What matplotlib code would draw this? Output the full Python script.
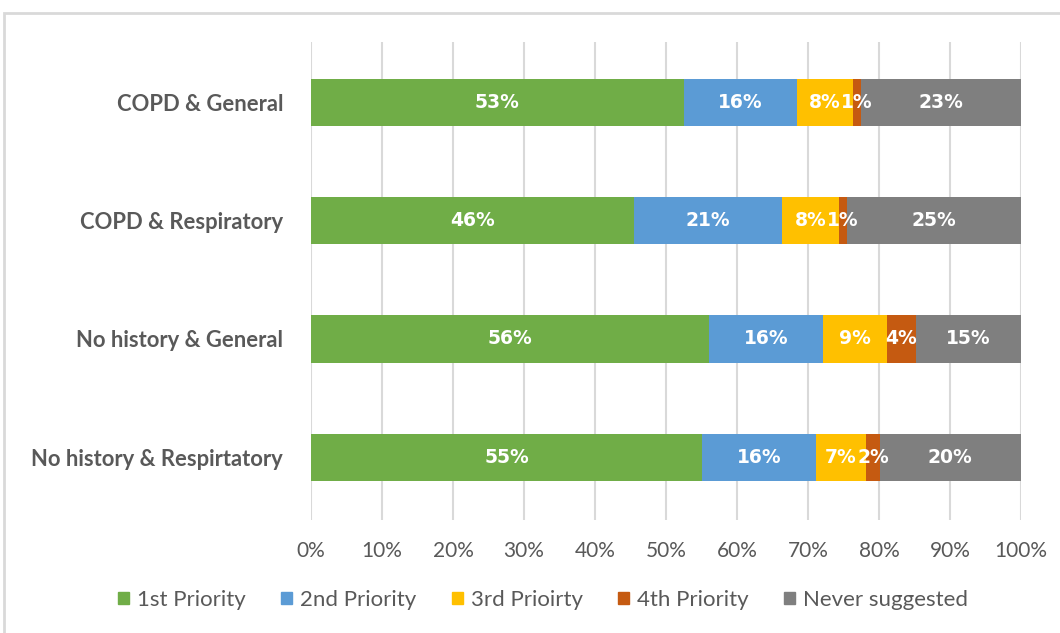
import matplotlib
matplotlib.use("Agg")
import matplotlib.pyplot as plt
from matplotlib.patches import Rectangle, Patch

categories = ["COPD & General", "COPD & Respiratory", "No history & General", "No history & Respirtatory"]
series = ["1st Priority", "2nd Priority", "3rd Prioirty", "4th Priority", "Never suggested"]
values = {
    "1st Priority":    [52.5, 45.5, 56.1, 55.1],
    "2nd Priority":    [16.0, 20.8, 16.0, 16.0],
    "3rd Prioirty":    [7.8, 8.1, 9.0, 7.1],
    "4th Priority":    [1.2, 1.1, 4.1, 1.9],
    "Never suggested": [22.5, 24.5, 14.8, 19.9],
}
labels = {
    "1st Priority":    ["53%", "46%", "56%", "55%"],
    "2nd Priority":    ["16%", "21%", "16%", "16%"],
    "3rd Prioirty":    ["8%", "8%", "9%", "7%"],
    "4th Priority":    ["1%", "1%", "4%", "2%"],
    "Never suggested": ["23%", "25%", "15%", "20%"],
}
colors = ["#70AD47", "#5B9BD5", "#FFC000", "#C55A11", "#7F7F7F"]
xticks = [0, 10, 20, 30, 40, 50, 60, 70, 80, 90, 100]

plt.rcParams['font.family'] = ['Lato', 'DejaVu Sans']
fig = plt.figure(figsize=(10.6, 6.33), dpi=100)
ax = fig.add_axes([311/1060, 1-520/633, 710/1060, 478/633])

ypos = list(range(len(categories)))
left = [0.0]*len(categories)
for s, c in zip(series, colors):
    v = values[s]
    ax.barh(ypos, v, left=left, height=0.40, color=c, label=s, zorder=3)
    for i, lab in enumerate(labels[s]):
        cx = left[i] + v[i]/2
        ax.text(cx, ypos[i], lab, ha='center', va='center', color='white',
                fontsize=13.5, fontweight='bold', family='DejaVu Sans', zorder=4)
    left = [l + x for l, x in zip(left, v)]

ax.set_yticks(ypos)
ax.set_yticklabels(categories, fontsize=15.8, fontweight='bold', color='#595959')
ax.set_ylim(3.53, -0.51)
ax.set_xlim(0, 100)
ax.set_xticks(xticks)
ax.set_xticklabels([f"{t}%" for t in xticks], fontsize=15, color='#595959')
ax.tick_params(axis='both', length=0)
ax.tick_params(axis='x', pad=15)
ax.tick_params(axis='y', pad=20)
ax.grid(axis='x', color='#D9D9D9', linewidth=1.5, zorder=0)
for sp in ax.spines.values():
    sp.set_visible(False)

handles = [Patch(color=c, label=s) for s, c in zip(series, colors)]
fig.legend(handles=handles, loc='center', bbox_to_anchor=(543/1060, 1-600/633),
           ncol=5, frameon=False, fontsize=16, handlelength=0.5, handleheight=0.5,
           handletextpad=0.35, columnspacing=1.6, labelcolor='#595959')

fig.add_artist(Rectangle((4/1060, -0.1), 1.2, 1-13/633+0.1, transform=fig.transFigure,
                         fill=False, edgecolor='#D9D9D9', linewidth=2))

fig.savefig("out.png", dpi=100)
